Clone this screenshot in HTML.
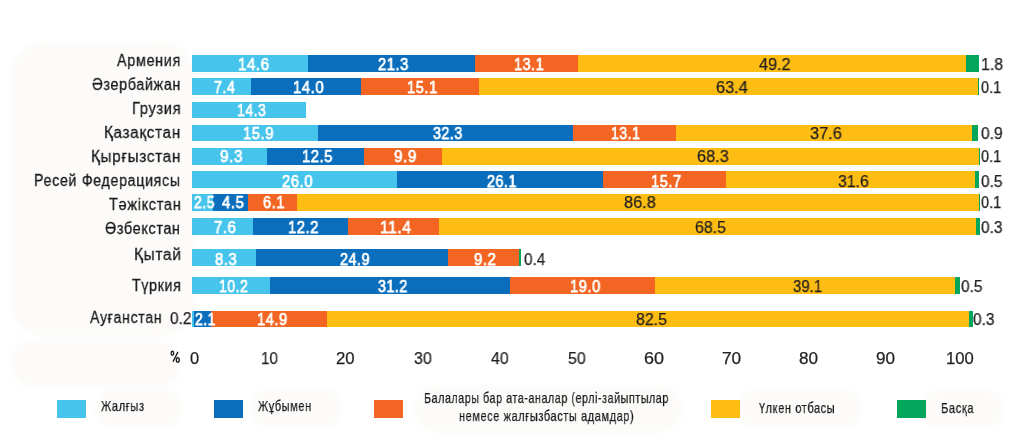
<!DOCTYPE html><html><head><meta charset="utf-8"><style>
html,body{margin:0;padding:0;background:#fff;}body{width:1024px;height:448px;position:relative;overflow:hidden;font-family:"Liberation Sans",sans-serif;}
.b{position:absolute;height:16.7px}
.t{position:absolute;white-space:pre;transform-origin:0 0;line-height:1;will-change:transform;}
.bg{position:absolute;background:#fcfbf9;filter:blur(2.5px);}.n{-webkit-text-stroke:0.45px currentColor;}
</style></head><body>
<div class="bg" style="left:10px;top:41px;width:185px;height:296px;border-radius:36px"></div>
<div class="bg" style="left:10px;top:341px;width:172px;height:46px;border-radius:23px"></div>
<div class="bg" style="left:95px;top:389px;width:88px;height:38px;border-radius:19px"></div>
<div class="bg" style="left:250px;top:389px;width:92px;height:38px;border-radius:19px"></div>
<div class="bg" style="left:414px;top:385px;width:268px;height:48px;border-radius:24px"></div>
<div class="bg" style="left:738px;top:390px;width:124px;height:38px;border-radius:19px"></div>
<div class="bg" style="left:920px;top:390px;width:84px;height:38px;border-radius:19px"></div>
<div class="b" style="left:192.00px;top:55.25px;width:116.00px;background:#47c4eb"></div>
<div class="b" style="left:308.00px;top:55.25px;width:167.00px;background:#0a6ebc"></div>
<div class="b" style="left:475.00px;top:55.25px;width:103.00px;background:#f26522"></div>
<div class="b" style="left:578.00px;top:55.25px;width:388.00px;background:#fdbd12"></div>
<div class="b" style="left:966.00px;top:55.25px;width:13.25px;background:#04a65c"></div>
<div class="b" style="left:192.00px;top:78.25px;width:59.00px;background:#47c4eb"></div>
<div class="b" style="left:251.00px;top:78.25px;width:110.25px;background:#0a6ebc"></div>
<div class="b" style="left:361.25px;top:78.25px;width:117.75px;background:#f26522"></div>
<div class="b" style="left:479.00px;top:78.25px;width:498.50px;background:#fdbd12"></div>
<div class="b" style="left:977.50px;top:78.25px;width:1.75px;background:#04a65c"></div>
<div class="b" style="left:192.00px;top:101.50px;width:113.75px;background:#47c4eb"></div>
<div class="b" style="left:192.00px;top:124.75px;width:126.00px;background:#47c4eb"></div>
<div class="b" style="left:318.00px;top:124.75px;width:255.00px;background:#0a6ebc"></div>
<div class="b" style="left:573.00px;top:124.75px;width:103.00px;background:#f26522"></div>
<div class="b" style="left:676.00px;top:124.75px;width:295.75px;background:#fdbd12"></div>
<div class="b" style="left:971.75px;top:124.75px;width:6.25px;background:#04a65c"></div>
<div class="b" style="left:192.00px;top:148.25px;width:74.75px;background:#47c4eb"></div>
<div class="b" style="left:266.75px;top:148.25px;width:97.50px;background:#0a6ebc"></div>
<div class="b" style="left:364.25px;top:148.25px;width:77.35px;background:#f26522"></div>
<div class="b" style="left:441.60px;top:148.25px;width:537.40px;background:#fdbd12"></div>
<div class="b" style="left:979.00px;top:148.25px;width:1.00px;background:#04a65c"></div>
<div class="b" style="left:192.00px;top:171.25px;width:205.00px;background:#47c4eb"></div>
<div class="b" style="left:397.00px;top:171.25px;width:205.75px;background:#0a6ebc"></div>
<div class="b" style="left:602.75px;top:171.25px;width:123.25px;background:#f26522"></div>
<div class="b" style="left:726.00px;top:171.25px;width:249.00px;background:#fdbd12"></div>
<div class="b" style="left:975.00px;top:171.25px;width:4.40px;background:#04a65c"></div>
<div class="b" style="left:192.00px;top:194.25px;width:21.00px;background:#47c4eb"></div>
<div class="b" style="left:213.00px;top:194.25px;width:34.50px;background:#0a6ebc"></div>
<div class="b" style="left:247.50px;top:194.25px;width:49.25px;background:#f26522"></div>
<div class="b" style="left:296.75px;top:194.25px;width:682.65px;background:#fdbd12"></div>
<div class="b" style="left:979.40px;top:194.25px;width:1.00px;background:#04a65c"></div>
<div class="b" style="left:192.00px;top:218.00px;width:60.50px;background:#47c4eb"></div>
<div class="b" style="left:252.50px;top:218.00px;width:95.75px;background:#0a6ebc"></div>
<div class="b" style="left:348.25px;top:218.00px;width:90.50px;background:#f26522"></div>
<div class="b" style="left:438.75px;top:218.00px;width:537.25px;background:#fdbd12"></div>
<div class="b" style="left:976.00px;top:218.00px;width:3.60px;background:#04a65c"></div>
<div class="b" style="left:192.00px;top:249.00px;width:64.00px;background:#47c4eb"></div>
<div class="b" style="left:256.00px;top:249.00px;width:192.00px;background:#0a6ebc"></div>
<div class="b" style="left:448.00px;top:249.00px;width:70.50px;background:#f26522"></div>
<div class="b" style="left:518.50px;top:249.00px;width:2.00px;background:#04a65c"></div>
<div class="b" style="left:192.00px;top:277.25px;width:78.00px;background:#47c4eb"></div>
<div class="b" style="left:270.00px;top:277.25px;width:240.00px;background:#0a6ebc"></div>
<div class="b" style="left:510.00px;top:277.25px;width:145.25px;background:#f26522"></div>
<div class="b" style="left:655.25px;top:277.25px;width:299.75px;background:#fdbd12"></div>
<div class="b" style="left:955.00px;top:277.25px;width:4.75px;background:#04a65c"></div>
<div class="b" style="left:192.00px;top:310.50px;width:2.25px;background:#47c4eb"></div>
<div class="b" style="left:194.25px;top:310.50px;width:17.00px;background:#0a6ebc"></div>
<div class="b" style="left:211.25px;top:310.50px;width:115.75px;background:#f26522"></div>
<div class="b" style="left:327.00px;top:310.50px;width:642.25px;background:#fdbd12"></div>
<div class="b" style="left:969.25px;top:310.50px;width:3.25px;background:#04a65c"></div>
<div class="b" style="left:57.10px;top:400.35px;width:29px;height:17.4px;background:#47c4eb"></div>
<div class="b" style="left:214.00px;top:400.35px;width:29px;height:17.4px;background:#0a6ebc"></div>
<div class="b" style="left:374.00px;top:400.35px;width:29px;height:17.4px;background:#f26522"></div>
<div class="b" style="left:710.60px;top:400.35px;width:29px;height:17.4px;background:#fdbd12"></div>
<div class="b" style="left:896.60px;top:400.35px;width:29px;height:17.4px;background:#04a65c"></div>
<div class="t" style="left:237.62px;top:55.93px;font-size:16.50px;color:#ffffff;-webkit-text-stroke:0.75px #fff;letter-spacing:0.60px;transform:scaleX(0.9157);">14.6</div>
<div class="t" style="left:378.39px;top:55.93px;font-size:16.50px;color:#ffffff;-webkit-text-stroke:0.75px #fff;letter-spacing:0.60px;transform:scaleX(0.8925);">21.3</div>
<div class="t" style="left:513.86px;top:55.93px;font-size:16.50px;color:#ffffff;-webkit-text-stroke:0.75px #fff;letter-spacing:0.60px;transform:scaleX(0.8751);">13.1</div>
<div class="t" style="left:759.08px;top:55.93px;font-size:16.50px;color:#231f20;transform:scaleX(0.9816);-webkit-text-stroke:0.25px #231f20;">49.2</div>
<div class="t" style="left:213.91px;top:79.33px;font-size:16.50px;color:#ffffff;-webkit-text-stroke:0.75px #fff;letter-spacing:0.60px;transform:scaleX(0.8632);">7.4</div>
<div class="t" style="left:293.33px;top:79.33px;font-size:16.50px;color:#ffffff;-webkit-text-stroke:0.75px #fff;letter-spacing:0.60px;transform:scaleX(0.9032);">14.0</div>
<div class="t" style="left:406.85px;top:79.33px;font-size:16.50px;color:#ffffff;-webkit-text-stroke:0.75px #fff;letter-spacing:0.60px;transform:scaleX(0.8907);">15.1</div>
<div class="t" style="left:715.59px;top:79.33px;font-size:16.50px;color:#231f20;transform:scaleX(0.9868);-webkit-text-stroke:0.25px #231f20;">63.4</div>
<div class="t" style="left:236.89px;top:101.73px;font-size:16.50px;color:#ffffff;-webkit-text-stroke:0.75px #fff;letter-spacing:0.60px;transform:scaleX(0.8504);">14.3</div>
<div class="t" style="left:242.84px;top:125.03px;font-size:16.50px;color:#ffffff;-webkit-text-stroke:0.75px #fff;letter-spacing:0.60px;transform:scaleX(0.8985);">15.9</div>
<div class="t" style="left:433.05px;top:125.03px;font-size:16.50px;color:#ffffff;-webkit-text-stroke:0.75px #fff;letter-spacing:0.60px;transform:scaleX(0.8607);">32.3</div>
<div class="t" style="left:611.39px;top:125.03px;font-size:16.50px;color:#ffffff;-webkit-text-stroke:0.75px #fff;letter-spacing:0.60px;transform:scaleX(0.8516);">13.1</div>
<div class="t" style="left:810.41px;top:125.03px;font-size:16.50px;color:#231f20;transform:scaleX(0.9896);-webkit-text-stroke:0.25px #231f20;">37.6</div>
<div class="t" style="left:220.26px;top:147.93px;font-size:16.50px;color:#ffffff;-webkit-text-stroke:0.75px #fff;letter-spacing:0.60px;transform:scaleX(0.9287);">9.3</div>
<div class="t" style="left:302.34px;top:147.93px;font-size:16.50px;color:#ffffff;-webkit-text-stroke:0.75px #fff;letter-spacing:0.60px;transform:scaleX(0.8970);">12.5</div>
<div class="t" style="left:394.26px;top:147.93px;font-size:16.50px;color:#ffffff;-webkit-text-stroke:0.75px #fff;letter-spacing:0.60px;transform:scaleX(0.9245);">9.9</div>
<div class="t" style="left:696.84px;top:147.93px;font-size:16.50px;color:#231f20;transform:scaleX(0.9872);-webkit-text-stroke:0.25px #231f20;">68.3</div>
<div class="t" style="left:282.43px;top:172.53px;font-size:16.50px;color:#ffffff;-webkit-text-stroke:0.75px #fff;letter-spacing:0.60px;transform:scaleX(0.9002);">26.0</div>
<div class="t" style="left:487.16px;top:172.53px;font-size:16.50px;color:#ffffff;-webkit-text-stroke:0.75px #fff;letter-spacing:0.60px;transform:scaleX(0.8661);">26.1</div>
<div class="t" style="left:651.35px;top:172.53px;font-size:16.50px;color:#ffffff;-webkit-text-stroke:0.75px #fff;letter-spacing:0.60px;transform:scaleX(0.8907);">15.7</div>
<div class="t" style="left:838.18px;top:172.53px;font-size:16.50px;color:#231f20;transform:scaleX(0.9574);-webkit-text-stroke:0.25px #231f20;">31.6</div>
<div class="t" style="left:193.93px;top:193.93px;font-size:16.50px;color:#ffffff;-webkit-text-stroke:0.75px #fff;letter-spacing:0.60px;transform:scaleX(0.8474);">2.5</div>
<div class="t" style="left:221.83px;top:193.93px;font-size:16.50px;color:#ffffff;-webkit-text-stroke:0.75px #fff;letter-spacing:0.60px;transform:scaleX(0.9048);">4.5</div>
<div class="t" style="left:262.64px;top:193.93px;font-size:16.50px;color:#ffffff;-webkit-text-stroke:0.75px #fff;letter-spacing:0.60px;transform:scaleX(0.8869);">6.1</div>
<div class="t" style="left:624.30px;top:193.93px;font-size:16.50px;color:#231f20;transform:scaleX(0.9884);-webkit-text-stroke:0.25px #231f20;">86.8</div>
<div class="t" style="left:213.88px;top:218.53px;font-size:16.50px;color:#ffffff;-webkit-text-stroke:0.75px #fff;letter-spacing:0.60px;transform:scaleX(0.9025);">7.6</div>
<div class="t" style="left:288.14px;top:218.53px;font-size:16.50px;color:#ffffff;-webkit-text-stroke:0.75px #fff;letter-spacing:0.60px;transform:scaleX(0.8954);">12.2</div>
<div class="t" style="left:380.28px;top:218.53px;font-size:16.50px;color:#ffffff;-webkit-text-stroke:0.75px #fff;letter-spacing:0.60px;transform:scaleX(0.9485);">11.4</div>
<div class="t" style="left:694.96px;top:218.53px;font-size:16.50px;color:#231f20;transform:scaleX(0.9612);-webkit-text-stroke:0.25px #231f20;">68.5</div>
<div class="t" style="left:215.28px;top:250.53px;font-size:16.50px;color:#ffffff;-webkit-text-stroke:0.75px #fff;letter-spacing:0.60px;transform:scaleX(0.8959);">8.3</div>
<div class="t" style="left:339.56px;top:250.53px;font-size:16.50px;color:#ffffff;-webkit-text-stroke:0.75px #fff;letter-spacing:0.60px;transform:scaleX(0.8708);">24.9</div>
<div class="t" style="left:473.78px;top:250.53px;font-size:16.50px;color:#ffffff;-webkit-text-stroke:0.75px #fff;letter-spacing:0.60px;transform:scaleX(0.9025);">9.2</div>
<div class="t" style="left:523.69px;top:250.53px;font-size:16.50px;color:#231f20;transform:scaleX(0.9291);-webkit-text-stroke:0.25px #231f20;">0.4</div>
<div class="t" style="left:219.39px;top:277.73px;font-size:16.50px;color:#ffffff;-webkit-text-stroke:0.75px #fff;letter-spacing:0.60px;transform:scaleX(0.8516);">10.2</div>
<div class="t" style="left:377.55px;top:277.73px;font-size:16.50px;color:#ffffff;-webkit-text-stroke:0.75px #fff;letter-spacing:0.60px;transform:scaleX(0.8620);">31.2</div>
<div class="t" style="left:569.59px;top:277.73px;font-size:16.50px;color:#ffffff;-webkit-text-stroke:0.75px #fff;letter-spacing:0.60px;transform:scaleX(0.8939);">19.0</div>
<div class="t" style="left:792.70px;top:277.73px;font-size:16.50px;color:#231f20;transform:scaleX(0.9058);-webkit-text-stroke:0.25px #231f20;">39.1</div>
<div class="t" style="left:169.69px;top:310.13px;font-size:16.50px;color:#231f20;transform:scaleX(0.9363);-webkit-text-stroke:0.25px #231f20;">0.2</div>
<div class="t" style="left:195.43px;top:311.03px;font-size:16.50px;color:#ffffff;-webkit-text-stroke:0.75px #fff;letter-spacing:0.60px;transform:scaleX(0.8425);">2.1</div>
<div class="t" style="left:256.55px;top:311.03px;font-size:16.50px;color:#ffffff;-webkit-text-stroke:0.75px #fff;letter-spacing:0.60px;transform:scaleX(0.8891);">14.9</div>
<div class="t" style="left:635.51px;top:311.03px;font-size:16.50px;color:#231f20;transform:scaleX(0.9625);-webkit-text-stroke:0.25px #231f20;">82.5</div>
<div class="t" style="left:980.79px;top:55.93px;font-size:16.50px;color:#231f20;transform:scaleX(0.9653);-webkit-text-stroke:0.25px #231f20;">1.8</div>
<div class="t" style="left:980.71px;top:79.33px;font-size:16.50px;color:#231f20;transform:scaleX(0.8810);-webkit-text-stroke:0.25px #231f20;">0.1</div>
<div class="t" style="left:980.68px;top:125.03px;font-size:16.50px;color:#231f20;transform:scaleX(0.9432);-webkit-text-stroke:0.25px #231f20;">0.9</div>
<div class="t" style="left:981.01px;top:147.93px;font-size:16.50px;color:#231f20;transform:scaleX(0.8810);-webkit-text-stroke:0.25px #231f20;">0.1</div>
<div class="t" style="left:980.69px;top:172.53px;font-size:16.50px;color:#231f20;transform:scaleX(0.9361);-webkit-text-stroke:0.25px #231f20;">0.5</div>
<div class="t" style="left:981.01px;top:193.93px;font-size:16.50px;color:#231f20;transform:scaleX(0.8810);-webkit-text-stroke:0.25px #231f20;">0.1</div>
<div class="t" style="left:980.69px;top:218.53px;font-size:16.50px;color:#231f20;transform:scaleX(0.9361);-webkit-text-stroke:0.25px #231f20;">0.3</div>
<div class="t" style="left:960.69px;top:277.73px;font-size:16.50px;color:#231f20;transform:scaleX(0.9361);-webkit-text-stroke:0.25px #231f20;">0.5</div>
<div class="t" style="left:973.19px;top:311.03px;font-size:16.50px;color:#231f20;transform:scaleX(0.9361);-webkit-text-stroke:0.25px #231f20;">0.3</div>
<div class="t" style="left:117.42px;top:51.66px;font-size:17.30px;color:#1a1a1a;letter-spacing:0.80px;transform:scaleX(0.8324);-webkit-text-stroke:0.30px #1a1a1a;">Армения</div>
<div class="t" style="left:92.08px;top:75.66px;font-size:17.30px;color:#1a1a1a;letter-spacing:0.80px;transform:scaleX(0.8288);-webkit-text-stroke:0.30px #1a1a1a;">Әзербайжан</div>
<div class="t" style="left:131.88px;top:99.66px;font-size:17.30px;color:#1a1a1a;letter-spacing:0.80px;transform:scaleX(0.8474);-webkit-text-stroke:0.30px #1a1a1a;">Грузия</div>
<div class="t" style="left:104.33px;top:123.66px;font-size:17.30px;color:#1a1a1a;letter-spacing:0.80px;transform:scaleX(0.8809);-webkit-text-stroke:0.30px #1a1a1a;">Қазақстан</div>
<div class="t" style="left:91.13px;top:147.66px;font-size:17.30px;color:#1a1a1a;letter-spacing:0.80px;transform:scaleX(0.8826);-webkit-text-stroke:0.30px #1a1a1a;">Қырғызстан</div>
<div class="t" style="left:34.11px;top:171.66px;font-size:17.30px;color:#1a1a1a;letter-spacing:0.80px;transform:scaleX(0.8246);-webkit-text-stroke:0.30px #1a1a1a;">Ресей Федерациясы</div>
<div class="t" style="left:108.76px;top:195.66px;font-size:17.30px;color:#1a1a1a;letter-spacing:0.80px;transform:scaleX(0.8415);-webkit-text-stroke:0.30px #1a1a1a;">Тәжікстан</div>
<div class="t" style="left:105.47px;top:219.66px;font-size:17.30px;color:#1a1a1a;letter-spacing:0.80px;transform:scaleX(0.8318);-webkit-text-stroke:0.30px #1a1a1a;">Өзбекстан</div>
<div class="t" style="left:133.72px;top:245.66px;font-size:17.30px;color:#1a1a1a;letter-spacing:0.80px;transform:scaleX(0.8912);-webkit-text-stroke:0.30px #1a1a1a;">Қытай</div>
<div class="t" style="left:131.67px;top:276.66px;font-size:17.30px;color:#1a1a1a;letter-spacing:0.80px;transform:scaleX(0.8220);-webkit-text-stroke:0.30px #1a1a1a;">Түркия</div>
<div class="t" style="left:90.25px;top:308.56px;font-size:17.30px;color:#1a1a1a;letter-spacing:0.80px;transform:scaleX(0.8198);-webkit-text-stroke:0.30px #1a1a1a;">Ауғанстан</div>
<div class="t" style="left:190.05px;top:349.63px;font-size:16.50px;color:#231f20;-webkit-text-stroke:0.25px #231f20;">0</div>
<div class="t" style="left:260.69px;top:349.63px;font-size:16.50px;color:#231f20;transform:scaleX(0.9156);-webkit-text-stroke:0.25px #231f20;">10</div>
<div class="t" style="left:336.06px;top:349.63px;font-size:16.50px;color:#231f20;transform:scaleX(1.0159);-webkit-text-stroke:0.25px #231f20;">20</div>
<div class="t" style="left:413.92px;top:349.63px;font-size:16.50px;color:#231f20;transform:scaleX(0.9675);-webkit-text-stroke:0.25px #231f20;">30</div>
<div class="t" style="left:491.08px;top:349.63px;font-size:16.50px;color:#231f20;transform:scaleX(0.9583);-webkit-text-stroke:0.25px #231f20;">40</div>
<div class="t" style="left:568.26px;top:349.63px;font-size:16.50px;color:#231f20;transform:scaleX(0.9622);-webkit-text-stroke:0.25px #231f20;">50</div>
<div class="t" style="left:643.75px;top:349.63px;font-size:16.50px;color:#231f20;transform:scaleX(1.0897);-webkit-text-stroke:0.25px #231f20;">60</div>
<div class="t" style="left:721.79px;top:349.63px;font-size:16.50px;color:#231f20;transform:scaleX(1.0454);-webkit-text-stroke:0.25px #231f20;">70</div>
<div class="t" style="left:798.87px;top:349.63px;font-size:16.50px;color:#231f20;transform:scaleX(1.0353);-webkit-text-stroke:0.25px #231f20;">80</div>
<div class="t" style="left:876.47px;top:349.63px;font-size:16.50px;color:#231f20;transform:scaleX(1.0353);-webkit-text-stroke:0.25px #231f20;">90</div>
<div class="t" style="left:945.69px;top:349.63px;font-size:16.50px;color:#231f20;transform:scaleX(1.0086);-webkit-text-stroke:0.25px #231f20;">100</div>
<div class="t" style="left:101.24px;top:398.83px;font-size:14.50px;color:#1a1a1a;letter-spacing:0.80px;transform:scaleX(0.7624);-webkit-text-stroke:0.25px #1a1a1a;">Жалғыз</div>
<div class="t" style="left:257.54px;top:398.83px;font-size:14.50px;color:#1a1a1a;letter-spacing:0.80px;transform:scaleX(0.7570);-webkit-text-stroke:0.25px #1a1a1a;">Жұбымен</div>
<div class="t" style="left:424.05px;top:390.83px;font-size:14.50px;color:#1a1a1a;letter-spacing:0.80px;transform:scaleX(0.7357);-webkit-text-stroke:0.25px #1a1a1a;">Балалары бар ата-аналар (ерлі-зайыптылар</div>
<div class="t" style="left:458.89px;top:408.83px;font-size:14.50px;color:#1a1a1a;letter-spacing:0.80px;transform:scaleX(0.7559);-webkit-text-stroke:0.25px #1a1a1a;">немесе жалғызбасты адамдар)</div>
<div class="t" style="left:759.15px;top:400.73px;font-size:14.50px;color:#1a1a1a;letter-spacing:0.80px;transform:scaleX(0.7563);-webkit-text-stroke:0.25px #1a1a1a;">Үлкен отбасы</div>
<div class="t" style="left:941.26px;top:400.73px;font-size:14.50px;color:#1a1a1a;letter-spacing:0.80px;transform:scaleX(0.7669);-webkit-text-stroke:0.25px #1a1a1a;">Басқа</div>
<svg style="position:absolute;left:0;top:0" width="1024" height="448"><g fill="none" stroke="#1a1a1a" stroke-width="1.35"><ellipse cx="172.4" cy="353.3" rx="1.25" ry="2.05"/><ellipse cx="177.8" cy="359.9" rx="1.45" ry="2.2"/><line x1="173" y1="361.8" x2="178" y2="351.9"/></g></svg>
</body></html>
